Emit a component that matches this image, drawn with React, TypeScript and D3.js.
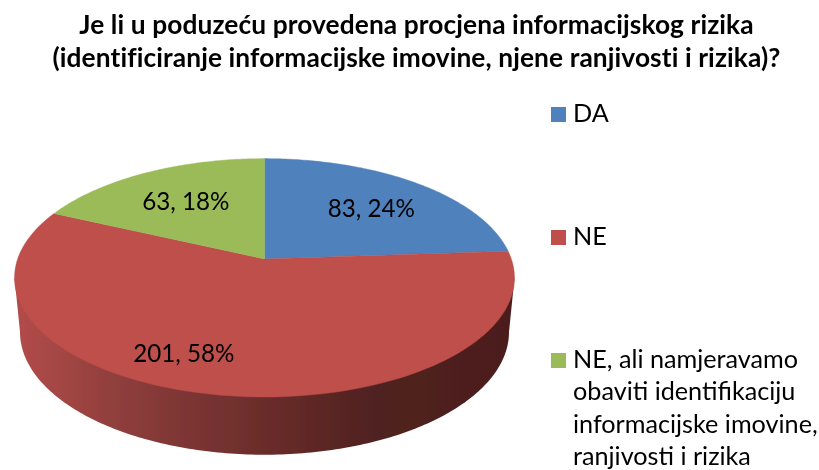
import React from "react";
import * as d3 from "d3";

const titleLines = [
  "Je li u poduzeću provedena procjena informacijskog rizika",
  "(identificiranje informacijske imovine, njene ranjivosti i rizika)?",
];
const categories = ["DA", "NE", "NE, ali namjeravamo"];
const legendExtra = ["obaviti identifikaciju", "informacijske imovine,", "ranjivosti i rizika"];
const values = [83, 201, 63];
const percents = [24, 58, 18];
const colors = ["#4f81bd", "#be4f4c", "#9bbb59"];

// layout
const W = 819, H = 470;
const cx = 264.5, cy = 277.8, rx = 250, ry = 119.2, k = -0.158;
const bcx = 264.5, bcy = 332, brx = 244.5, bry = 122.7;
const labelRadius = [0.65, 0.73, 0.64];
const labelShift = [5, -44, 0];
const legendY = [122, 245, 368];
const wallStops: [number, string][] = [
  [0, "#b34c49"], [0.2, "#903f3d"], [0.35, "#7c3533"], [0.55, "#642a28"], [0.72, "#502120"], [1, "#4c1e1c"],
];

const project = (r: number, a: number): [number, number] => {
  const u = r * Math.sin(a), v = -r * Math.cos(a);
  const d = 1 + k * v;
  return [cx + (rx * u * Math.sqrt(1 - k * k)) / d, cy + (ry * (v + k)) / d];
};

const arcs = d3.pie<number>().sort(null)(values);
const line = d3.line();

const slicePath = (start: number, end: number) => {
  const steps = d3.range(0, 121).map((i) => start + ((end - start) * i) / 120);
  return (line([project(0, 0), ...steps.map((a) => project(1, a))]) ?? "") + "Z";
};

const wallPath = () => {
  const bottom = d3.range(0, 181).map((i): [number, number] => {
    const t = Math.PI - (Math.PI * i) / 180;
    return [bcx + brx * Math.cos(t), bcy + bry * Math.sin(t)];
  });
  return (line([[cx - rx, cy], ...bottom, [cx + rx, cy]]) ?? "") + "Z";
};

const font = "Lato, Carlito, sans-serif";

export default function App() {
  return (
    <svg width={W} height={H} viewBox={`0 0 ${W} ${H}`}
      style={{ position: "absolute", left: 0, top: 0, background: "#fff" }} fontFamily={font}>
      <defs>
        <linearGradient id="wall" gradientUnits="userSpaceOnUse" x1={cx - rx} x2={cx + rx} y1={0} y2={0}>
          {wallStops.map(([o, c]) => <stop key={o} offset={o} stopColor={c} />)}
        </linearGradient>
        <filter id="soft" filterUnits="userSpaceOnUse" x={0} y={0} width={W} height={H}>
          <feGaussianBlur stdDeviation="0.45" />
        </filter>
      </defs>
      <g filter="url(#soft)">
        {titleLines.map((t, i) => (
          <text key={t} x={416.5} y={34 + i * 33} textAnchor="middle" fontSize={26.3} letterSpacing={0.1} fontWeight={700} fill="#000">{t}</text>
        ))}
        <path d={wallPath()} fill="url(#wall)" />
        {arcs.map((a, i) => (
          <path key={i} d={slicePath(a.startAngle, a.endAngle)} fill={colors[i]} stroke={colors[i]} strokeWidth={0.4} />
        ))}
        {arcs.map((a, i) => {
          const [x, y] = project(labelRadius[i], (a.startAngle + a.endAngle) / 2);
          return (
            <text key={i} x={x + labelShift[i]} y={y + 9} textAnchor="middle" fontSize={24.2} fill="#000">
              {`${values[i]}, ${percents[i]}%`}
            </text>
          );
        })}
        {categories.map((c, i) => (
          <g key={c}>
            <rect x={551} y={legendY[i] - 15} width={15} height={15} fill={colors[i]} />
            <text x={573} y={legendY[i]} fontSize={25.2} fill="#000">{c}</text>
          </g>
        ))}
        {legendExtra.map((t, i) => (
          <text key={t} x={573} y={legendY[2] + (i + 1) * 32.4} fontSize={25.2} fill="#000">{t}</text>
        ))}
      </g>
    </svg>
  );
}
